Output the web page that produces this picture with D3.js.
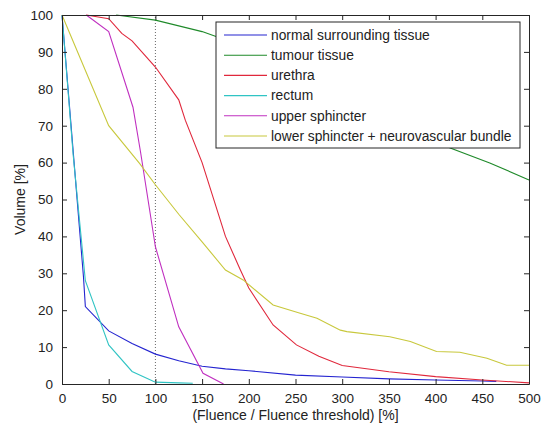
<!DOCTYPE html>
<html><head><meta charset="utf-8">
<script src="https://cdn.jsdelivr.net/npm/d3@7"></script>
<style>body{margin:0;background:#fff;} text{font-family:"Liberation Sans",Arial,sans-serif;}</style>
</head><body>
<svg id="chart" width="543" height="428"></svg>
<script>
const seriesNames = ["normal surrounding tissue","tumour tissue","urethra","rectum","upper sphincter","lower sphincter + neurovascular bundle"];
const seriesColors = ["#2424d0","#1f8a2a","#e0283c","#30c4c4","#c030c0","#c8c83c"];
const normalX = [0,23,25,50,75,100,125,150,175,200,250,300,350,400,450,465];
const normalY = [100,29,21,14.4,11,8.1,6.3,4.8,4.1,3.6,2.4,1.9,1.4,1.1,0.8,0.7];
const tumourX = [58,100,150,200,250,300,350,400,415,458,500];
const tumourY = [100,98.6,95.5,91,86,80,74,67.5,64,59.9,55.3];
const urethraX = [26,50,64,75,100,125,132,150,175,191,200,226,251,275,300,350,400,450,500];
const urethraY = [100,99,95,93,85.9,77,71.5,60,40,30.9,26,16,10.6,7.5,5,3.3,2,1.1,0.3];
const rectumX = [0,12,25,50,75,100,125,140];
const rectumY = [100,62,28,10.6,3.4,0.5,0.3,0.2];
const upperX = [26,50,76,84,100,125,151,173];
const upperY = [100,95.5,75,63,37.2,15.5,2.9,0];
const lowerX = [0,50,83,100,125,150,175,194,226,255,273,298,305,351,373,401,426,455,476,500];
const lowerY = [100,70,59.8,54,46,38.5,30.9,28.2,21.4,19.2,17.8,14.6,14.2,12.8,11.5,8.8,8.6,7,5.1,5.1];
const xTicks = [0,50,100,150,200,250,300,350,400,450,500];
const yTicks = [0,10,20,30,40,50,60,70,80,90,100];
const thresholdX = 100;

const seriesX = [normalX,tumourX,urethraX,rectumX,upperX,lowerX];
const seriesY = [normalY,tumourY,urethraY,rectumY,upperY,lowerY];

const svg = d3.select("#chart");
const L=62,R=529,T=15,B=384;
const x = d3.scaleLinear().domain([0,500]).range([L,R]);
const y = d3.scaleLinear().domain([0,100]).range([B,T]);
const axisColor="#262626";

// dotted threshold line
svg.append("line").attr("x1",x(thresholdX)).attr("x2",x(thresholdX)).attr("y1",y(0)).attr("y2",y(100))
  .attr("stroke","#666").attr("stroke-width",1).attr("stroke-dasharray","1,2");

const line = d3.line().x(d=>x(d[0])).y(d=>y(d[1]));
seriesX.forEach((xs,i)=>{
  const pts = xs.map((v,j)=>[v,seriesY[i][j]]);
  svg.append("path").datum(pts).attr("d",line).attr("fill","none")
    .attr("stroke",seriesColors[i]).attr("stroke-width",1.1);
});

// axes (ticks inside)
const gB = svg.append("g").attr("transform",`translate(0,${B})`)
  .call(d3.axisBottom(x).tickValues(xTicks).tickSize(-5).tickPadding(9).tickSizeOuter(0));
const gT = svg.append("g").attr("transform",`translate(0,${T})`)
  .call(d3.axisTop(x).tickValues(xTicks).tickSize(-5).tickFormat("").tickSizeOuter(0));
const gL = svg.append("g").attr("transform",`translate(${L},0)`)
  .call(d3.axisLeft(y).tickValues(yTicks).tickSize(-5).tickPadding(9).tickSizeOuter(0));
const gR = svg.append("g").attr("transform",`translate(${R},0)`)
  .call(d3.axisRight(y).tickValues(yTicks).tickSize(-5).tickFormat("").tickSizeOuter(0));
[gB,gT,gL,gR].forEach(g=>{
  g.selectAll("path").attr("stroke",axisColor);
  g.selectAll("line").attr("stroke",axisColor);
  g.selectAll("text").attr("fill","#222").style("font-size","13.5px").style("font-family","Liberation Sans, Arial, sans-serif");
});

// legend
const lg = svg.append("g");
lg.append("rect").attr("x",216).attr("y",22).attr("width",304).attr("height",126)
  .attr("fill","#fff").attr("stroke",axisColor).attr("stroke-width",1);
seriesNames.forEach((n,i)=>{
  const yy = 35 + i*20.2;
  lg.append("line").attr("x1",224).attr("x2",267).attr("y1",yy).attr("y2",yy)
    .attr("stroke",seriesColors[i]).attr("stroke-width",1.1);
  lg.append("text").attr("x",271).attr("y",yy).attr("dy","0.35em").text(n)
    .attr("fill","#222").style("font-size","13.8px");
});

// axis labels
svg.append("text").attr("x",(L+R)/2).attr("y",415).attr("dy","0.35em").attr("text-anchor","middle")
  .text("(Fluence / Fluence threshold) [%]").attr("fill","#222").style("font-size","14px");
svg.append("text").attr("transform",`translate(20,${(T+B)/2}) rotate(-90)`).attr("dy","0.35em")
  .attr("text-anchor","middle").text("Volume [%]").attr("fill","#222").style("font-size","14px");
</script>
</body></html>
